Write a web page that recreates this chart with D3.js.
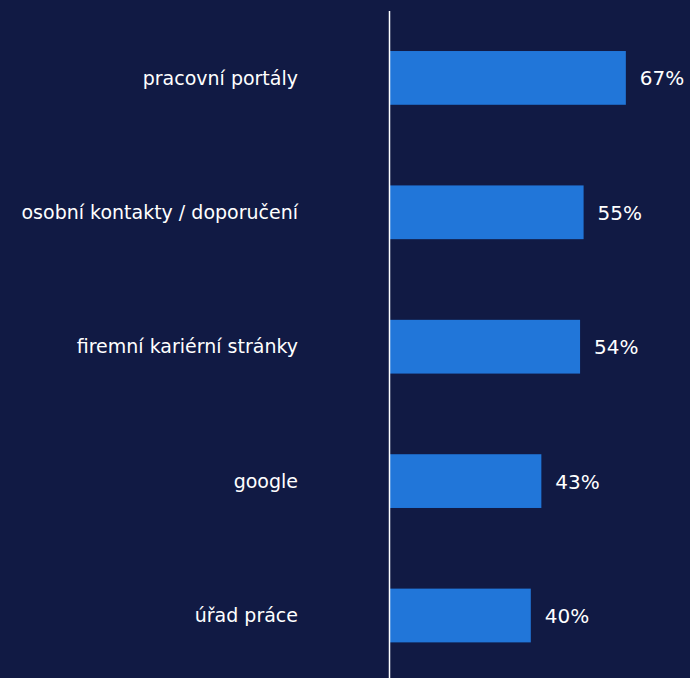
<!DOCTYPE html>
<html>
<head>
<meta charset="utf-8">
<script src="https://cdn.jsdelivr.net/npm/d3@7"></script>
<style>
  html, body { margin: 0; padding: 0; background: #111a44; }
  svg { display: block; }
</style>
</head>
<body>
<svg id="chart" width="690" height="678"></svg>
<script>
const categories = ["pracovní portály", "osobní kontakty / doporučení", "firemní kariérní stránky", "google", "úřad práce"];
const values = [67, 55, 54, 43, 40];

const W = 690, H = 678;
const svg = d3.select("#chart");
svg.append("rect").attr("width", W).attr("height", H).attr("fill", "#111a44");

const x = d3.scaleLinear().domain([0, 100]).range([390, 742]);
const y = d3.scaleBand().domain(categories).range([10.7, 682.7]).paddingInner(0.6).paddingOuter(0.3);

const font = "Tahoma, 'DejaVu Sans', Verdana, sans-serif";

svg.selectAll("rect.bar")
  .data(categories)
  .join("rect")
  .attr("class", "bar")
  .attr("x", x(0))
  .attr("y", d => y(d))
  .attr("width", (d, i) => x(values[i]) - x(0))
  .attr("height", y.bandwidth())
  .attr("fill", "#2176d9");

// category labels
svg.selectAll("text.cat")
  .data(categories)
  .join("text")
  .attr("class", "cat")
  .attr("x", 298)
  .attr("y", d => y(d) + y.bandwidth() / 2)
  .attr("dy", "0.35em")
  .attr("text-anchor", "end")
  .attr("fill", "#ffffff")
  .style("font-family", font)
  .style("font-size", "19px")
  .text(d => d);

// value labels
svg.selectAll("text.val")
  .data(categories)
  .join("text")
  .attr("class", "val")
  .attr("x", (d, i) => x(values[i]) + 14)
  .attr("y", d => y(d) + y.bandwidth() / 2)
  .attr("dy", "0.37em")
  .attr("fill", "#ffffff")
  .style("font-family", font)
  .style("font-size", "20px")
  .text((d, i) => values[i] + "%");

// vertical axis line
svg.append("line")
  .attr("x1", 389.5).attr("x2", 389.5)
  .attr("y1", 11).attr("y2", H)
  .attr("stroke", "#ffffff")
  .attr("stroke-width", 1.5);
</script>
</body>
</html>
